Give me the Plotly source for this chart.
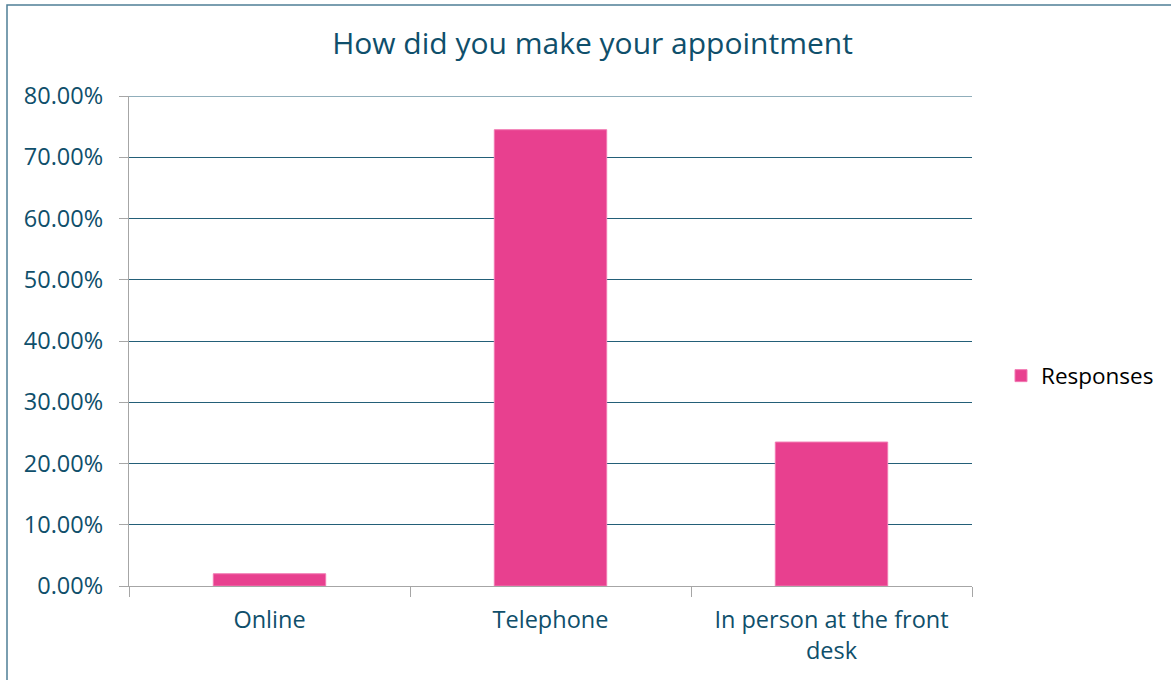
import plotly.graph_objects as go

categories = ["Online", "Telephone", "In person at the front desk"]
tick_labels = ["Online", "Telephone", "In person at the front<br>desk"]
responses = [0.020, 0.745, 0.235]
y_ticks = [0, 0.1, 0.2, 0.3, 0.4, 0.5, 0.6, 0.7, 0.8]

TEXT = "#0f4f6b"
GRID = "#235f78"
AXIS = "#a6a6a6"
FONT = "Open Sans"

W, H = 1171, 680
L, R, T, B = 129, W - 972, 96, H - 586
pw, ph = W - L - R, H - T - B

fig = go.Figure()
fig.add_trace(go.Bar(
    x=categories, y=responses, name="Responses",
    marker=dict(color="#E8408F", line=dict(color="#F27AB3", width=1)),
))

def px_to_paper_x(px):
    return (px - L) / pw

def px_to_paper_y(py):
    return (H - B - py) / ph

fig.add_shape(type="rect", xref="paper", yref="paper",
              x0=px_to_paper_x(7), x1=px_to_paper_x(1180),
              y0=px_to_paper_y(690), y1=px_to_paper_y(5),
              line=dict(color="#4f7f96", width=1.5), fillcolor="rgba(0,0,0,0)", layer="below")

# top gridline (at the maximum tick), which plotly omits at the range edge
fig.add_shape(type="line", xref="paper", yref="y", x0=0, x1=1,
              y0=max(y_ticks), y1=max(y_ticks),
              line=dict(color=GRID, width=1.2), layer="below")

fig.update_layout(
    width=W, height=H,
    margin=dict(l=L, r=R, t=T, b=B, autoexpand=False),
    paper_bgcolor="white", plot_bgcolor="white",
    title=dict(text="How did you make your appointment", x=0.506, xanchor="center",
               y=1 - 43 / H, yanchor="middle",
               font=dict(family=FONT, size=30, color=TEXT)),
    bargap=0.6,
    showlegend=True,
    legend=dict(x=px_to_paper_x(1001), xanchor="left", y=px_to_paper_y(376), yanchor="middle",
                font=dict(family=FONT, size=22.5, color="#000000"), bgcolor="rgba(0,0,0,0)"),
    xaxis=dict(
        tickvals=categories, ticktext=tick_labels, tickson="boundaries",
        ticks="outside", ticklen=10, tickcolor=AXIS, tickwidth=1.3,
        showline=True, linecolor=AXIS, linewidth=1.3, showgrid=False,
        tickfont=dict(family=FONT, size=23.5, color=TEXT),
        ticklabelstandoff=13,
    ),
    yaxis=dict(
        range=[0, 0.8], tickvals=y_ticks, tickformat=".2%",
        ticks="outside", ticklen=9, tickcolor=AXIS, tickwidth=1.3,
        showline=True, linecolor=AXIS, linewidth=1.3,
        showgrid=True, gridcolor=GRID, gridwidth=1.2, zeroline=False,
        tickfont=dict(family=FONT, size=23.5, color=TEXT),
        ticklabelstandoff=11,
    ),
)

fig.write_html("out.html", config={"displayModeBar": False},
               post_script="document.body.style.margin='0';document.body.style.overflow='hidden';")
